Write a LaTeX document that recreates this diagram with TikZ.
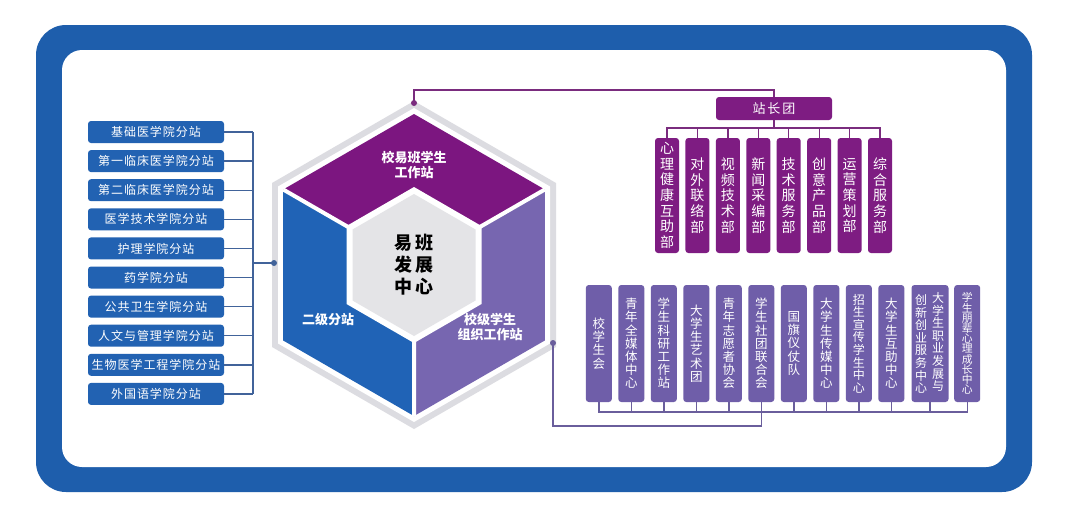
\documentclass[tikz,border=0pt]{standalone}
\usepackage{fontspec}
\setmainfont{Noto Sans CJK SC}
\usetikzlibrary{calc}
\definecolor{frameblue}{HTML}{1E5EAC}
\definecolor{boxblue}{HTML}{2262B2}
\definecolor{hexblue}{HTML}{2063B6}
\definecolor{hexpurple}{HTML}{7C1680}
\definecolor{boxpurple}{HTML}{7E1C82}
\definecolor{lav}{HTML}{7766B0}
\definecolor{boxlav}{HTML}{6F5EA9}
\definecolor{hexgray}{HTML}{DCDCE1}
\definecolor{centergray}{HTML}{E4E4E7}
\definecolor{lline}{HTML}{41639A}
\definecolor{pline}{HTML}{7A2C7E}
\definecolor{vline}{HTML}{6A5E9C}
\tikzset{
  lbox/.style={fill=boxblue, rounded corners=3pt, minimum width=136pt, minimum height=22pt, inner sep=0pt, text=white, font=\fontsize{12}{14}\selectfont\addfontfeature{LetterSpace=8}},
  headbox/.style={fill=boxpurple, rounded corners=3pt, minimum width=116pt, minimum height=23pt, inner sep=0pt, text=white, font=\fontsize{13}{15}\selectfont\addfontfeature{LetterSpace=15}},
  tbox/.style={fill=boxpurple, rounded corners=3pt, minimum width=24pt, minimum height=115pt, inner sep=0pt, text=white, align=center, font=\fontsize{14}{15.7}\selectfont},
  bbox/.style={fill=boxlav, rounded corners=3pt, minimum width=26pt, minimum height=117pt, inner sep=0pt, text=white, align=center, font=\fontsize{12.5}{13.2}\selectfont},
  btext/.style={inner sep=0pt, text=white, align=center},
  hextext/.style={inner sep=0pt, text=white, align=center, font=\fontsize{13}{14.5}\selectfont\bfseries},
  centertext/.style={inner sep=0pt, text=black, align=center, font=\fontsize{18}{22}\selectfont\bfseries\addfontfeature{LetterSpace=15}},
  lconn/.style={draw=lline, line width=1.4pt},
  pconn/.style={draw=pline, line width=1.4pt},
  vconn/.style={draw=vline, line width=1.4pt}
}
\begin{document}
\begin{tikzpicture}[x=1pt,y=-1pt]
\useasboundingbox (0,0) rectangle (1067,504);
\fill[white] (0,0) rectangle (1067,504);
% frame
\fill[frameblue, rounded corners=30pt] (36,25) rectangle (1032,492);
\fill[white, rounded corners=20pt] (62,50) rectangle (1006,467);

% hexagon
\fill[hexgray] (414,101) -- (556,183) -- (556,347) -- (414,429) -- (272,347) -- (272,183) -- cycle;
\fill[white] (414,108) -- (550,186.5) -- (550,343.5) -- (414,422) -- (278,343.5) -- (278,186.5) -- cycle;
\coordinate (C) at (414,265);
\coordinate (T) at (414,114);
\coordinate (UR) at (544.8,189.5);
\coordinate (LR) at (544.8,340.5);
\coordinate (B) at (414,416);
\coordinate (LL) at (283.2,340.5);
\coordinate (UL) at (283.2,189.5);
\fill[hexpurple] (T) -- (UR) -- (C) -- (UL) -- cycle;
\fill[hexblue] (UL) -- (C) -- (B) -- (LL) -- cycle;
\fill[lav] (UR) -- (LR) -- (B) -- (C) -- cycle;
\draw[white, line width=4pt] (UL) -- (C) -- (UR) (C) -- (B);
\fill[white] (414,187) -- (481.5,226) -- (481.5,304) -- (414,343) -- (346.5,304) -- (346.5,226) -- cycle;
\fill[centergray] (414,194) -- (475.5,229.5) -- (475.5,300.5) -- (414,336) -- (352.5,300.5) -- (352.5,229.5) -- cycle;
\node[hextext] (ht) at (414,165) {校易班学生\\工作站};
\node[centertext] (hc) at (414,265) {易班\\发展\\中心};
\node[hextext] (hl) at (328,320) {二级分站};
\node[hextext] (hr) at (490,327) {校级学生\\组织工作站};

% left boxes
\foreach \t [count=\i] in {基础医学院分站,第一临床医学院分站,第二临床医学院分站,医学技术学院分站,护理学院分站,药学院分站,公共卫生学院分站,人文与管理学院分站,生物医学工程学院分站,外国语学院分站}
  \node[lbox] (L\i) at (156,{132+29.1*(\i-1)}) {\t};
\coordinate (lbus) at (253,263);
\coordinate (ldot) at (274,263);
\foreach \i in {1,...,10} \draw[lconn] (L\i.east) -- (L\i.east -| lbus);
\draw[lconn] (L1.east -| lbus) -- (L10.east -| lbus);
\draw[lconn] (lbus) -- (ldot);
\fill[lline] (ldot) circle (3pt);

% top right
\node[headbox] (zz) at (774,108.5) {站长团};
\coordinate (tdot) at (414,103);
\coordinate (tbend) at (414,90);
\draw[pconn] (tdot) -- (tbend) -| (zz.north);
\fill[pline] (tdot) circle (3pt);
\node[tbox] (T1) at (667.0,195.5) {心\\理\\健\\康\\互\\助\\部};
\node[tbox] (T2) at (697.4,195.5) {对\\外\\联\\络\\部};
\node[tbox] (T3) at (727.9,195.5) {视\\频\\技\\术\\部};
\node[tbox] (T4) at (758.3,195.5) {新\\闻\\采\\编\\部};
\node[tbox] (T5) at (788.7,195.5) {技\\术\\服\\务\\部};
\node[tbox] (T6) at (819.2,195.5) {创\\意\\产\\品\\部};
\node[tbox] (T7) at (849.6,195.5) {运\\营\\策\\划\\部};
\node[tbox] (T8) at (880.0,195.5) {综\\合\\服\\务\\部};
\coordinate (tbar) at (774,128);
\draw[pconn] (zz.south) -- (tbar);
\foreach \i in {1,...,8} \draw[pconn] (T\i.north) |- (tbar);

% bottom right
\node[bbox] (B1) at (598.8,343.5) {校\\学\\生\\会};
\node[bbox] (B2) at (631.3,343.5) {青\\年\\全\\媒\\体\\中\\心};
\node[bbox] (B3) at (663.8,343.5) {学\\生\\科\\研\\工\\作\\站};
\node[bbox] (B4) at (696.3,343.5) {大\\学\\生\\艺\\术\\团};
\node[bbox] (B5) at (728.8,343.5) {青\\年\\志\\愿\\者\\协\\会};
\node[bbox] (B6) at (761.3,343.5) {学\\生\\社\\团\\联\\合\\会};
\node[bbox] (B7) at (793.8,343.5) {国\\旗\\仪\\仗\\队};
\node[bbox] (B8) at (826.3,343.5) {大\\学\\生\\传\\媒\\中\\心};
\node[bbox, font=\fontsize{12}{12.6}\selectfont] (B9) at (858.8,343.5) {招\\生\\宣\\传\\学\\生\\中\\心};
\node[bbox] (B10) at (891.3,343.5) {大\\学\\生\\互\\助\\中\\心};
\node[bbox, minimum width=37pt] (B11) at (930,343.5) {};
\node[btext, font=\fontsize{12}{12.6}\selectfont] (B11a) at (921,344) {创\\新\\创\\业\\服\\务\\中\\心};
\node[btext, font=\fontsize{12}{12.6}\selectfont] (B11b) at (938,342) {大\\学\\生\\职\\业\\发\\展\\与};
\node[bbox, font=\fontsize{10.8}{10.2}\selectfont] (B12) at (967.2,343.5) {学\\生\\朋\\辈\\心\\理\\成\\长\\中\\心};
\coordinate (bbar) at (761.3,412);
\foreach \i in {1,...,12} \draw[vconn] (B\i.south) |- (bbar);
\coordinate (bstem) at (761.3,426);
\coordinate (rdot) at (553,343);
\draw[vconn] (bbar) -- (bstem) -| (rdot);
\fill[vline] (rdot) circle (3pt);
\end{tikzpicture}
\end{document}
